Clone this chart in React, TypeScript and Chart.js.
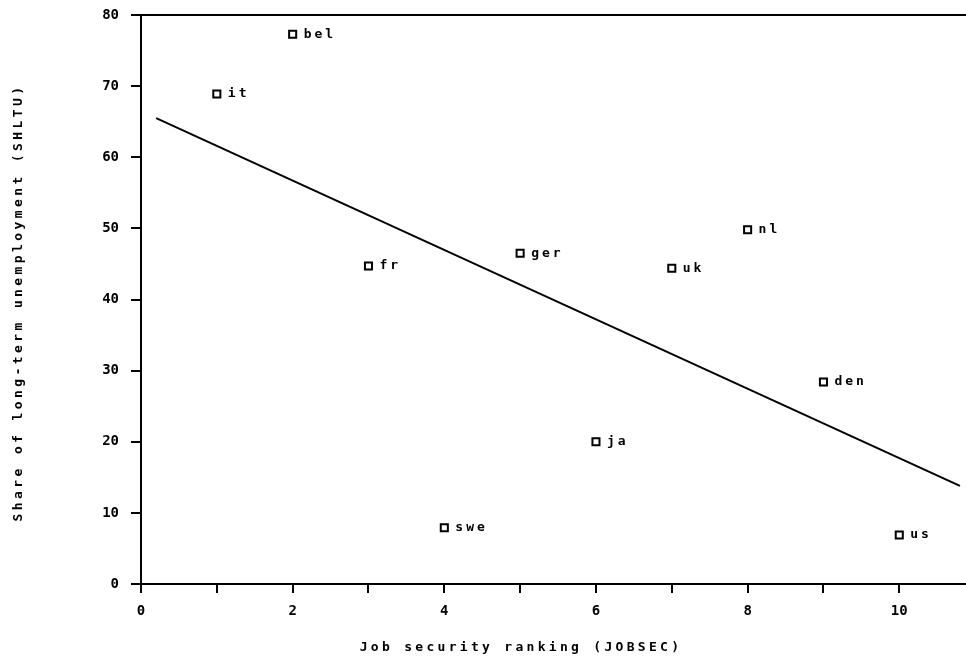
import React, { useEffect, useRef } from "react";
import { Chart, registerables } from "chart.js";

Chart.register(...registerables);

const countries = ["it", "bel", "fr", "swe", "ger", "ja", "uk", "nl", "den", "us"];
const jobsec = [1, 2, 3, 4, 5, 6, 7, 8, 9, 10];
const shltu = [68.9, 77.3, 44.7, 7.9, 46.5, 20.0, 44.4, 49.8, 28.4, 6.9];
const fitX = [0.2, 10.8];
const fitY = [65.5, 13.8];
const xTitle = "Job security ranking (JOBSEC)";
const yTitle = "Share of long-term unemployment (SHLTU)";

const MONO = "'DejaVu Sans Mono', monospace";

const textPlugin = {
  id: "customText",
  afterDatasetsDraw(chart: any) {
    const meta = chart.getDatasetMeta(0);
    const ctx = chart.ctx;
    const area = chart.chartArea;
    ctx.save();
    ctx.fillStyle = "#000";
    ctx.font = `bold 13px ${MONO}`;
    (ctx as any).letterSpacing = "3px";
    ctx.textAlign = "left";
    ctx.textBaseline = "middle";
    meta.data.forEach((el: any, i: number) => {
      ctx.fillText(countries[i], el.x + 11, el.y);
    });
    ctx.textAlign = "center";
    (ctx as any).letterSpacing = "3.3px";
    ctx.fillText(xTitle, 521, 648);
    ctx.translate(19, (area.top + area.bottom) / 2 + 3);
    ctx.rotate(-Math.PI / 2);
    (ctx as any).letterSpacing = "3.4px";
    ctx.fillText(yTitle, 0, 0);
    ctx.restore();
  },
};

export default function App() {
  const ref = useRef<HTMLCanvasElement>(null);
  useEffect(() => {
    if (!ref.current) return;
    const chart = new Chart(ref.current, {
      type: "scatter",
      data: {
        datasets: [
          {
            type: "scatter",
            data: jobsec.map((x, i) => ({ x, y: shltu[i] })),
            pointStyle: "rect",
            pointRadius: 5,
            borderColor: "#000",
            backgroundColor: "#fff",
            borderWidth: 2,
          },
          {
            type: "line",
            data: fitX.map((x, i) => ({ x, y: fitY[i] })),
            borderColor: "#000",
            borderWidth: 2,
            pointRadius: 0,
            fill: false,
          } as any,
        ],
      },
      options: {
        responsive: false,
        animation: false,
        layout: { autoPadding: false, padding: { top: 15, right: 0, left: 0, bottom: 0 } },
        plugins: { legend: { display: false }, tooltip: { enabled: false } },
        scales: {
          x: {
            type: "linear",
            min: 0,
            max: 10.88,
            afterBuildTicks: (s: any) => {
              s.ticks = s.ticks.filter((t: any) => Number.isInteger(t.value));
            },
            afterFit: (s: any) => {
              s.height = 80;
            },
            ticks: {
              stepSize: 1,
              autoSkip: false,
              maxRotation: 0,
              color: "#000",
              font: { family: MONO, size: 14, weight: "bold" },
              padding: 10,
              callback: (v: any) => (Number(v) % 2 === 0 ? String(v) : ""),
            },
            grid: {
              drawOnChartArea: false,
              tickColor: "#000",
              tickLength: 9,
              lineWidth: 2,
            },
            border: { display: true, color: "#000", width: 2 },
          },
          y: {
            type: "linear",
            min: 0,
            max: 80,
            afterFit: (s: any) => {
              s.width = 141;
              s.paddingTop = 0;
              s.paddingBottom = 0;
            },
            ticks: {
              stepSize: 10,
              color: "#000",
              font: { family: MONO, size: 14, weight: "bold" },
              padding: 12,
            },
            grid: {
              color: (c: any) => (c.tick && c.tick.value === 80 ? "#000" : "rgba(0,0,0,0)"),
              tickColor: "#000",
              tickLength: 10,
              lineWidth: 2,
            },
            border: { display: true, color: "#000", width: 2 },
          },
        },
      },
      plugins: [textPlugin],
    } as any);
    return () => chart.destroy();
  }, []);
  return (
    <div style={{ position: "fixed", left: 0, top: 0, width: 966, height: 664, background: "#fff" }}>
      <canvas ref={ref} width={966} height={664} />
    </div>
  );
}
